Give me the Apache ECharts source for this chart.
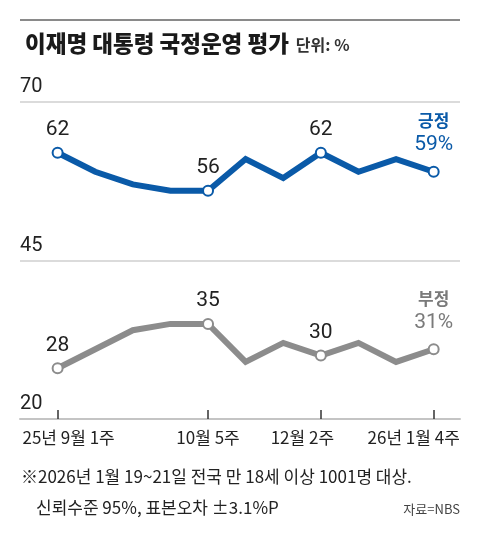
<!DOCTYPE html>
<html><head><meta charset="utf-8">
<script src="https://cdn.jsdelivr.net/npm/echarts@6/dist/echarts.min.js"></script>
<style>html,body{margin:0;padding:0;background:#fff}#c{width:480px;height:540px}</style>
</head><body><div id="c"></div>
<script>
// ---- data ----
const positive = [62, 59, 57, 56, 56, 61, 58, 62, 59, 61, 59];
const negative = [28, 31, 34, 35, 35, 29, 32, 30, 32, 29, 31];
const tickIdx = [0, 4, 7, 10];
const tickLabels = ['25년 9월 1주', '10월 5주', '12월 2주', '26년 1월 4주'];
const seriesNames = ['긍정', '부정'];
const yMin = 20, yMax = 70, yStep = 25;

const BLUE = '#0a5aa8', GRAY = '#8c8c8c', GRAY_TXT = '#7a7a7a';
const NUM_FONT = "Roboto,'Liberation Sans',sans-serif";
const KR_FONT = "'Noto Sans CJK KR','Noto Sans',sans-serif";

function build(values, name, color, txtColor) {
  const last = values.length - 1;
  return {
    type: 'line', name: name, z: 5,
    data: values.map((v, i) => {
      const marked = tickIdx.includes(i);
      return {
        value: [i, v],
        symbol: marked ? 'circle' : 'none',
        symbolSize: 10,
        label: { show: marked, distance: i === last ? 9 : 5 }
      };
    }),
    showSymbol: true,
    lineStyle: { color: color, width: 6, join: 'miter' },
    itemStyle: { color: '#fff', borderColor: color, borderWidth: 2 },
    label: {
      position: 'top',
      formatter: p => p.dataIndex === last
        ? '{n|' + name + '}\n{v|' + p.value[1] + '%}'
        : '{d|' + p.value[1] + '}',
      rich: {
        d: { fontFamily: NUM_FONT, fontSize: 21, color: '#222', lineHeight: 24 },
        n: { fontFamily: KR_FONT, fontSize: 17, fontWeight: 'bold', color: txtColor, lineHeight: 24 },
        v: { fontFamily: NUM_FONT, fontSize: 21, color: txtColor, lineHeight: 24 }
      }
    },
    emphasis: { disabled: true },
    animation: false
  };
}

const chart = echarts.init(document.getElementById('c'), null, { renderer: 'canvas' });
chart.setOption({
  backgroundColor: '#fff',
  animation: false,
  title: {
    left: 20, top: 24,
    text: '{a|이재명 대통령 국정운영 평가} {b|단위: %}',
    textStyle: {
      rich: {
        a: { fontFamily: KR_FONT, fontSize: 22.5, fontWeight: 900, color: '#1a1a1a', lineHeight: 28 },
        b: { fontFamily: KR_FONT, fontSize: 16, color: '#333', lineHeight: 28, padding: [3, 0, 0, 2] }
      }
    }
  },
  grid: { left: 20, right: 20, top: 102, bottom: 121, containLabel: false },
  xAxis: {
    type: 'value', min: -1, max: 10.7,
    splitLine: { show: false },
    axisLine: { show: true, lineStyle: { color: '#c4c4c4', width: 2 } },
    axisTick: {
      show: true, inside: true, length: 9, customValues: tickIdx,
      lineStyle: { color: '#333', width: 1.5 }
    },
    axisLabel: {
      show: true, customValues: tickIdx, margin: 10,
      formatter: v => {
        const k = tickIdx.indexOf(Math.round(v));
        if (k < 0) return '';
        const style = ['s0', 's1', 's2', 's3'][k];
        return '{' + style + '|' + tickLabels[k] + '}';
      },
      rich: {
        s0: { fontFamily: KR_FONT, fontSize: 17, color: '#222', padding: [0, 0, 0, 22] },
        s1: { fontFamily: KR_FONT, fontSize: 17, color: '#222' },
        s2: { fontFamily: KR_FONT, fontSize: 17, color: '#222', padding: [0, 37, 0, 0] },
        s3: { fontFamily: KR_FONT, fontSize: 17, color: '#222', padding: [0, 40, 0, 0] }
      }
    }
  },
  yAxis: {
    type: 'value', min: yMin, max: yMax, interval: yStep,
    axisLine: { show: false }, axisTick: { show: false },
    splitLine: { show: true, lineStyle: { color: '#cfcfcf', width: 1.5 } },
    axisLabel: {
      inside: true, margin: 0, verticalAlign: 'bottom', padding: [0, 0, 5, 0],
      fontFamily: NUM_FONT, fontSize: 20, color: '#222'
    }
  },
  graphic: [
    { type: 'line', shape: { x1: 20, y1: 20, x2: 460, y2: 20 }, style: { stroke: '#8a8a8a', lineWidth: 2 } },
    { type: 'text', style: { x: 21, y: 477, text: '※2026년 1월 19~21일 전국 만 18세 이상 1001명 대상.', font: "17px 'Noto Sans CJK KR'", fill: '#222', verticalAlign: 'middle' } },
    { type: 'text', style: { x: 36, y: 508, text: '신뢰수준 95%, 표본오차 ±3.1%P', font: "17px 'Noto Sans CJK KR'", fill: '#222', verticalAlign: 'middle' } },
    { type: 'text', style: { x: 460, y: 509, text: '자료=NBS', font: "13px 'Noto Sans CJK KR'", fill: '#444', align: 'right', verticalAlign: 'middle' } }
  ],
  series: [
    build(positive, seriesNames[0], BLUE, BLUE),
    build(negative, seriesNames[1], GRAY, GRAY_TXT)
  ]
});
</script></body></html>
